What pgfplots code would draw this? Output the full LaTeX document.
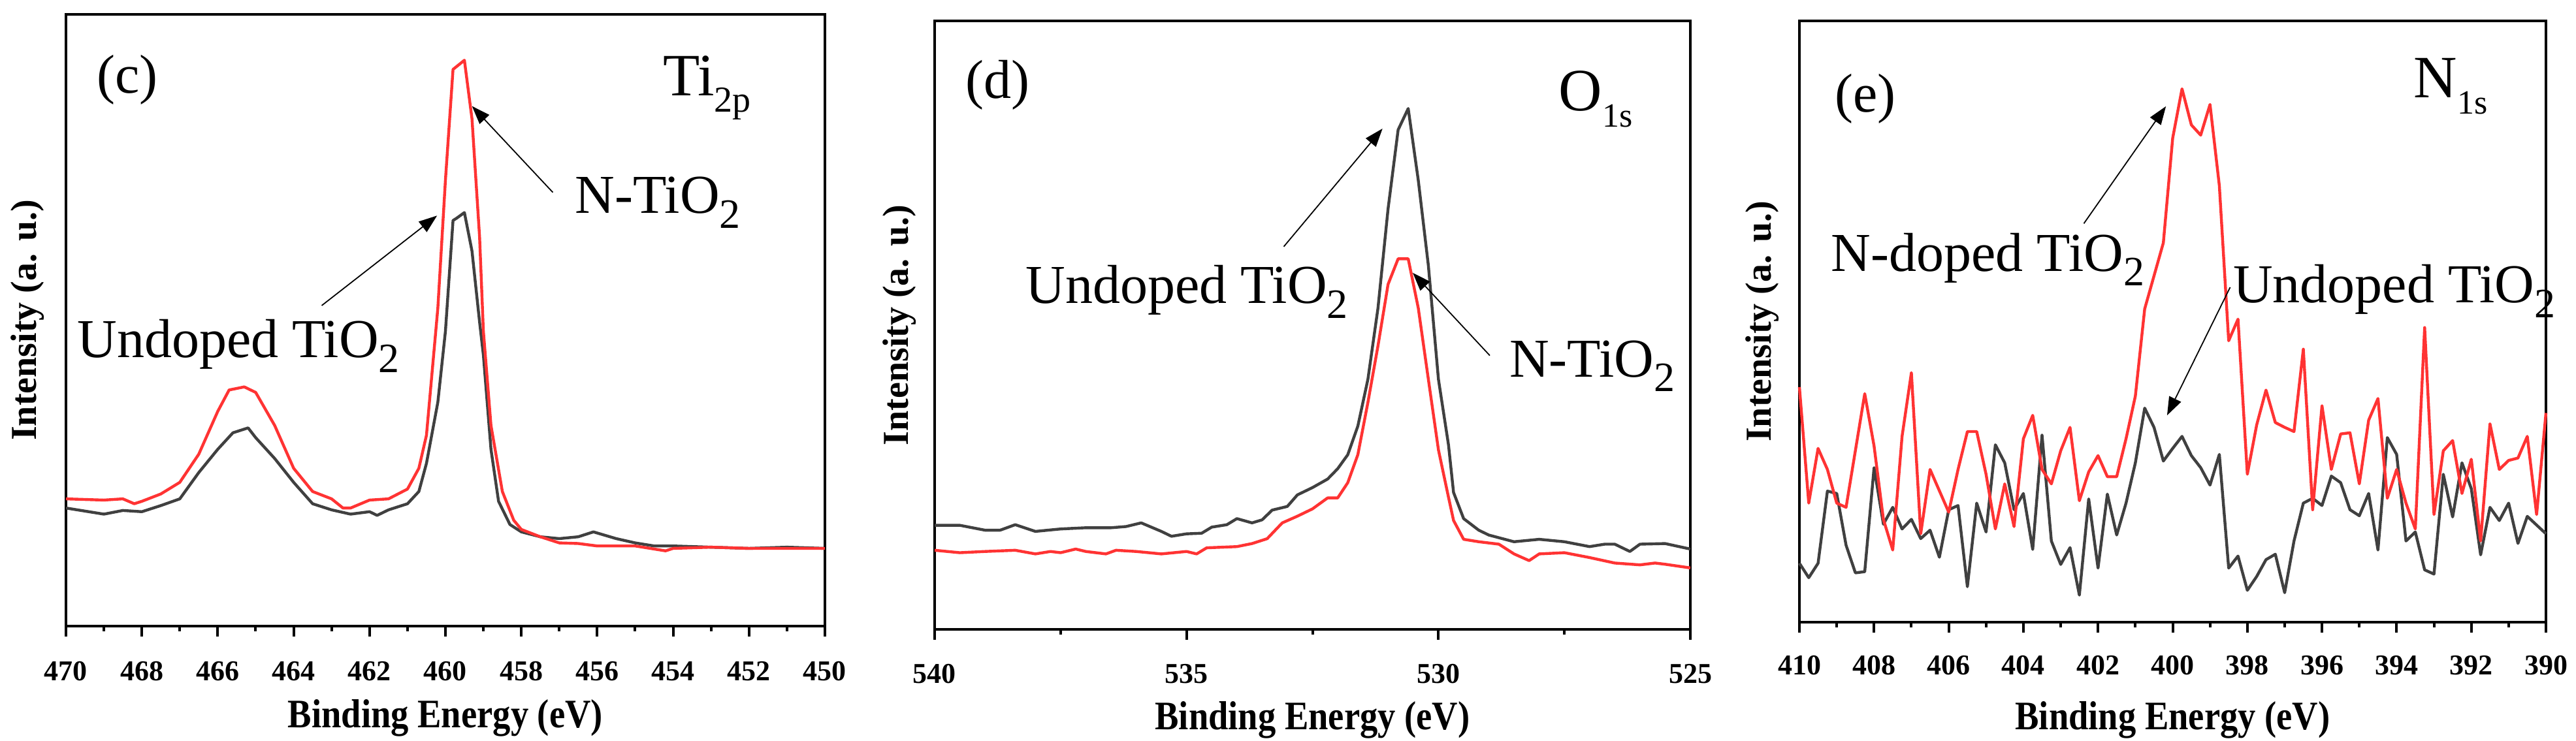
\documentclass[border=0pt]{standalone}
\usepackage{fontspec}
\setmainfont{Liberation Serif}
\newfontfamily\labfont[FakeStretch=0.88]{Liberation Serif}
\usepackage{pgfplots}
\pgfplotsset{compat=1.18}
\usetikzlibrary{arrows.meta}
\definecolor{cred}{HTML}{FF3333}
\definecolor{cgray}{HTML}{404040}
\newcommand\Sub[2]{\raisebox{-0.27em}{\fontsize{#2}{#2}\selectfont #1}}
\newcommand\ann{\fontsize{21}{21}\selectfont}
\newcommand\elm{\fontsize{23}{23}\selectfont}
\tikzset{
  ann/.style={inner sep=0pt, anchor=base west},
  arr/.style={-{Triangle[length=7pt,width=5pt]}, line width=0.45pt},
}
\pgfplotsset{
  xps/.style={
    scale only axis,
    axis line style={line width=1pt},
    every tick/.style={black,line width=1pt},
    tick align=outside,
    major tick length=4pt,
    minor tick length=2pt,
    xtick pos=bottom,
    ytick=\empty,
    x dir=reverse,
    ymin=0, ymax=100,
    clip=false,
    minor x tick num=1,
    /pgf/number format/assume math mode=true,
    xticklabel style={font=\fontsize{11}{11}\selectfont\bfseries, anchor=center},
    xlabel style={font=\labfont\fontsize{15.5}{15.5}\selectfont\bfseries, anchor=center},
    ylabel style={font=\fontsize{14}{14}\selectfont\bfseries, anchor=center},
    xlabel={Binding Energy (eV)},
    ylabel={Intensity (a. u.)},
    every axis plot/.append style={line width=1.1pt, line join=round, no markers},
  },
}
\begin{document}
\begin{tikzpicture}
\path[use as bounding box] (0,0) rectangle (986pt,283.75pt);
% ---------------- (c) Ti 2p
\begin{axis}[xps,
  at={(25.25pt,44pt)}, anchor=south west,
  width=290.5pt, height=234.25pt,
  xmin=450, xmax=470,
  xtick={450,452,...,470},
  xticklabel style={yshift=-13.25pt},
  xlabel style={at={(axis description cs:0.5,-0.1505)}},
  ylabel style={at={(axis description cs:-0.0508,0.5)}},
]
\addplot[cgray] coordinates {
(470,19.3) (469,18.3) (468.5,18.9) (468,18.7) (467.5,19.7) (467,20.8) (466.5,25.1)
(466,28.9) (465.6,31.6) (465.2,32.4) (465,30.8) (464.5,27.4) (464,23.5) (463.5,20.0)
(463,19.0) (462.5,18.3) (462,18.7) (461.8,18.1) (461.5,19.0) (461,20.0) (460.7,22.0)
(460.5,26.6) (460.2,36.6) (460,48.2) (459.8,66.3) (459.7,66.7) (459.5,67.6) (459.3,61.3)
(459.1,49.7) (459,44.3) (458.8,28.9) (458.6,20.4) (458.3,16.6) (458,15.4) (457.5,14.6)
(457,14.3) (456.5,14.6) (456.1,15.4) (455.5,14.3) (455,13.6) (454.5,13.1) (454,13.1)
(453,12.9) (452,12.7) (451,12.9) (450,12.7)
};
\addplot[cred] coordinates {
(470,20.8) (469,20.6) (468.5,20.8) (468.2,20.0) (468,20.4) (467.5,21.6) (467,23.5)
(466.5,28.1) (466,35.1) (465.7,38.6) (465.3,39.1) (465,38.2) (464.5,32.8) (464,25.8)
(463.5,22.0) (463,20.8) (462.7,19.3) (462.5,19.3) (462,20.6) (461.5,20.8) (461,22.4)
(460.7,25.8) (460.5,31.2) (460.2,52.0) (460,72.9) (459.8,91.0) (459.5,92.5) (459.3,82.9)
(459.1,63.6) (459,48.2) (458.8,32.8) (458.5,22.0) (458.2,17.3) (458,15.8) (457.5,14.6)
(457,13.6) (456.5,13.5) (456,13.1) (455,13.1) (454.2,12.3) (454,12.7) (453,12.9)
(452,12.7) (451,12.7) (450,12.7)
};
\node[ann] at (axis cs:469.20,87.1) {\ann(c)};
\node[ann] at (axis cs:454.28,86.7) {\elm Ti\Sub{2p}{14}};
\node[ann] at (axis cs:469.71,43.9) {\ann Undoped TiO\Sub{2}{16}};
\node[ann] at (axis cs:456.59,67.5) {\ann N-TiO\Sub{2}{16}};
\draw[arr] (axis cs:463.26,52.4) -- (axis cs:460.22,67.1);
\draw[arr] (axis cs:457.17,70.9) -- (axis cs:459.30,85.0);
\end{axis}
% ---------------- (d) O 1s
\begin{axis}[xps,
  at={(357.75pt,42.75pt)}, anchor=south west,
  width=289.25pt, height=233pt,
  xmin=525, xmax=540,
  xtick={525,530,535,540},
  xticklabel style={yshift=-13pt},
  xlabel style={at={(axis description cs:0.5,-0.149)}},
  ylabel style={at={(axis description cs:-0.0467,0.5)}},
]
\addplot[cgray] coordinates {
(540,17.1) (539.5,17.1) (539,16.3) (538.7,16.3) (538.4,17.2) (538,16.1) (537.5,16.5)
(537,16.7) (536.5,16.7) (536.2,16.9) (535.9,17.5) (535.5,16.1) (535.3,15.3) (535,15.7)
(534.7,15.8) (534.5,16.8) (534.2,17.2) (534,18.2) (533.7,17.5) (533.5,18.0) (533.3,19.6)
(533,20.2) (532.8,22.1) (532.5,23.3) (532.2,24.7) (532,26.4) (531.8,28.7) (531.6,33.4)
(531.4,41.1) (531.2,52.8) (531,69.1) (530.8,82.1) (530.6,85.6) (530.4,73.8) (530.2,59.8)
(530,41.1) (529.8,30.3) (529.7,22.5) (529.5,18.2) (529.2,16.3) (529,15.5) (528.5,14.4)
(528,14.8) (527.5,14.4) (527,13.6) (526.7,14.0) (526.5,14.0) (526.2,12.8) (526,14.0)
(525.5,14.1) (525,13.2)
};
\addplot[cred] coordinates {
(540,13.0) (539.5,12.6) (539,12.8) (538.4,13.0) (538,12.4) (537.7,12.8) (537.5,12.6)
(537.2,13.2) (537,12.8) (536.6,12.4) (536.4,13.0) (536,12.8) (535.5,12.4) (535,12.8)
(534.8,12.4) (534.6,13.4) (534,13.6) (533.7,14.1) (533.4,14.9) (533.1,17.5) (532.8,18.6)
(532.5,19.8) (532.2,21.6) (532,21.6) (531.8,24.1) (531.6,28.7) (531.4,37.3) (531.2,46.6)
(531,56.7) (530.8,60.9) (530.6,60.9) (530.4,52.8) (530.2,41.1) (530,29.5) (529.8,21.7)
(529.7,17.9) (529.5,14.8) (529.2,14.4) (528.8,14.0) (528.5,12.4) (528.2,11.3) (528,12.4)
(527.5,12.6) (527,11.8) (526.5,10.9) (526,10.6) (525.7,10.9) (525.5,10.7) (525,10.1)
};
\node[ann] at (axis cs:539.40,87.3) {\ann(d)};
\node[ann] at (axis cs:527.62,85.2) {\elm O\Sub{1s}{13}};
\node[ann] at (axis cs:538.20,53.6) {\ann Undoped TiO\Sub{2}{16}};
\node[ann] at (axis cs:528.60,41.5) {\ann N-TiO\Sub{2}{16}};
\draw[arr] (axis cs:533.07,62.9) -- (axis cs:531.11,82.3);
\draw[arr] (axis cs:528.98,45.0) -- (axis cs:530.51,58.6);
\end{axis}
% ---------------- (e) N 1s
\begin{axis}[xps,
  at={(688.75pt,45.5pt)}, anchor=south west,
  width=285.75pt, height=230.25pt,
  xmin=390, xmax=410,
  xtick={390,392,...,410},
  xticklabel style={yshift=-12.5pt},
  xlabel style={at={(axis description cs:0.5,-0.163)}},
  ylabel style={at={(axis description cs:-0.0499,0.5)}},
]
\addplot[cgray] coordinates {
(410.00,9.8) (409.75,7.4) (409.50,9.8) (409.25,21.8) (409.00,21.4) (408.75,12.8)
(408.50,8.2) (408.25,8.4) (408.00,25.7) (407.75,16.3) (407.50,19.1) (407.25,15.5)
(407.00,17.1) (406.75,13.9) (406.50,15.3) (406.25,10.8) (406.00,18.7) (405.75,19.4)
(405.50,5.9) (405.25,19.8) (405.00,15.0) (404.75,29.5) (404.50,26.5) (404.25,18.7)
(404.00,21.4) (403.75,12.1) (403.50,31.1) (403.25,13.5) (403.00,9.6) (402.75,12.4)
(402.50,4.5) (402.25,20.5) (402.00,9.0) (401.75,21.3) (401.50,14.5) (401.25,19.8)
(401.00,26.5) (400.75,35.6) (400.50,32.4) (400.25,26.8) (400.00,28.9) (399.75,30.9)
(399.50,27.7) (399.25,25.7) (399.00,22.8) (398.75,27.9) (398.50,9.0) (398.25,11.0)
(398.00,5.3) (397.75,7.6) (397.50,10.4) (397.25,11.3) (397.00,4.9) (396.75,13.5)
(396.50,19.8) (396.25,20.6) (396.00,19.4) (395.75,24.3) (395.50,23.2) (395.25,18.7)
(395.00,17.7) (394.75,21.4) (394.50,12.0) (394.25,30.7) (394.00,27.9) (393.75,13.5)
(393.50,15.0) (393.25,8.7) (393.00,8.0) (392.75,24.6) (392.50,17.5) (392.25,26.5)
(392.00,22.2) (391.75,11.2) (391.50,19.1) (391.25,16.9) (391.00,19.8) (390.75,13.1)
(390.50,17.6) (390.00,14.7)
};
\addplot[cred] coordinates {
(410.00,39.1) (409.75,19.8) (409.50,28.9) (409.25,25.4) (409.00,19.8) (408.75,19.1)
(408.25,38.0) (408.00,29.3) (407.75,17.1) (407.50,12.0) (407.25,30.9) (407.00,41.5)
(406.75,14.7) (406.50,25.4) (406.00,18.3) (405.75,25.4) (405.50,31.7) (405.25,31.7)
(405.00,24.6) (404.75,15.5) (404.50,23.0) (404.25,15.9) (404.00,30.5) (403.75,34.4)
(403.50,25.4) (403.25,23.0) (403.00,28.5) (402.75,32.4) (402.50,20.2) (402.25,25.0)
(402.00,27.7) (401.75,24.2) (401.50,24.2) (401.25,30.5) (401.00,37.6) (400.75,52.1)
(400.50,57.6) (400.25,63.1) (400.00,80.5) (399.75,88.7) (399.50,82.7) (399.25,81.0)
(399.00,86.1) (398.75,72.6) (398.50,46.8) (398.25,50.4) (398.00,24.6) (397.75,32.8)
(397.50,38.6) (397.25,33.2) (397.00,32.4) (396.75,31.7) (396.50,45.4) (396.25,18.7)
(396.00,36.0) (395.75,25.4) (395.50,31.3) (395.25,31.5) (395.00,23.0) (394.75,33.6)
(394.50,37.2) (394.25,20.6) (394.00,25.4) (393.75,19.8) (393.50,15.5) (393.25,49.0)
(393.00,17.9) (392.75,28.5) (392.50,30.2) (392.25,21.4) (392.00,27.1) (391.75,13.5)
(391.50,33.0) (391.25,25.4) (391.00,26.9) (390.75,27.3) (390.50,30.9) (390.25,17.9)
(390.00,34.8)
};
\node[ann] at (axis cs:409.06,84.8) {\ann(e)};
\node[ann] at (axis cs:393.55,87.2) {\elm N\Sub{1s}{13}};
\node[ann] at (axis cs:409.16,58.4) {\ann N-doped TiO\Sub{2}{16}};
\node[ann] at (axis cs:398.39,53.1) {\ann Undoped TiO\Sub{2}{16}};
\draw[arr] (axis cs:402.38,66.3) -- (axis cs:400.18,85.8);
\draw[arr] (axis cs:398.46,55.7) -- (axis cs:400.15,34.4);
\end{axis}
\end{tikzpicture}
\end{document}
